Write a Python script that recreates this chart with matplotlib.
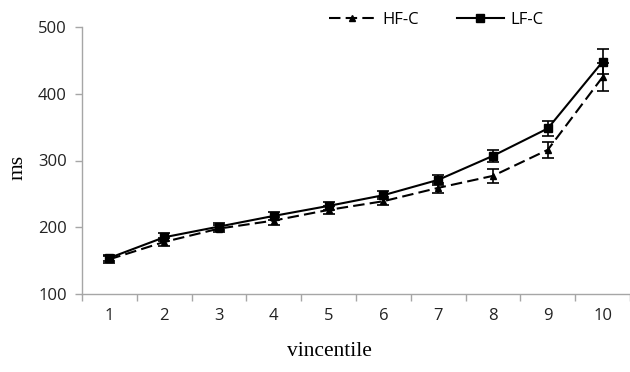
import matplotlib
matplotlib.use("Agg")
import matplotlib.pyplot as plt
import numpy as np
from matplotlib.lines import Line2D

vincentiles = [1, 2, 3, 4, 5, 6, 7, 8, 9, 10]
hf_c = [152, 178, 198, 210, 226, 239, 259, 277, 316, 425]
hf_c_err = [5, 6, 5, 6, 6, 6, 7, 10, 12, 21]
lf_c = [154, 185, 201, 217, 232, 248, 271, 307, 348, 448]
lf_c_err = [5, 6, 5, 6, 6, 6, 7, 9, 11, 19]
y_ticks = [100, 200, 300, 400, 500]

W, H = 630, 372
fig = plt.figure(figsize=(W / 100, H / 100), dpi=100)
ax = fig.add_axes([82 / W, 1 - 294 / H, (630 - 82) / W, (294 - 27) / H])

tick_font = "Open Sans"
grey = "#a6a6a6"
dash = (0, (5.5, 2.5))

ax.errorbar(vincentiles, hf_c, yerr=hf_c_err, color="black", lw=1.5,
            ls=dash, marker="^", ms=4, capsize=4, elinewidth=1.2,
            capthick=1.2, label="HF-C")
ax.errorbar(vincentiles, lf_c, yerr=lf_c_err, color="black", lw=1.5,
            ls="-", marker="s", ms=6, capsize=4, elinewidth=1.2,
            capthick=1.2, label="LF-C")

ax.set_xlim(0.5, 10.5)
ax.set_ylim(100, 500)
ax.set_yticks(y_ticks)
ax.set_xticks(vincentiles)
ax.set_xticks(np.arange(0.5, 11, 1), minor=True)
ax.tick_params(axis="x", which="major", length=0, pad=10)
ax.tick_params(axis="x", which="minor", length=5, color=grey, width=1)
ax.tick_params(axis="y", length=5, color=grey, width=1, pad=6)
for lab in ax.get_xticklabels() + ax.get_yticklabels():
    lab.set_fontfamily(tick_font)
    lab.set_fontsize(12)
    lab.set_color("#222222")

for s in ["top", "right"]:
    ax.spines[s].set_visible(False)
for s in ["left", "bottom"]:
    ax.spines[s].set_color(grey)
    ax.spines[s].set_linewidth(1)

fig.text(18 / W, 1 - 167 / H, "ms", rotation=90, ha="center", va="center",
         family="Liberation Serif", fontsize=15.5)
fig.text(329 / W, 1 - 352 / H, "vincentile", ha="center", va="center",
         family="Liberation Serif", fontsize=15.5)

handles = [
    Line2D([], [], color="black", lw=1.5, ls=dash, marker="^", ms=4),
    Line2D([], [], color="black", lw=1.5, ls="-", marker="s", ms=6),
]
fig.legend(handles, ["HF-C", "LF-C"], loc="center", ncol=2,
           bbox_to_anchor=(436 / W, 1 - 20 / H), frameon=False,
           prop={"family": tick_font, "size": 12}, handlelength=2.8,
           columnspacing=2.3, handletextpad=0.4)

fig.savefig("out.png", dpi=100)
